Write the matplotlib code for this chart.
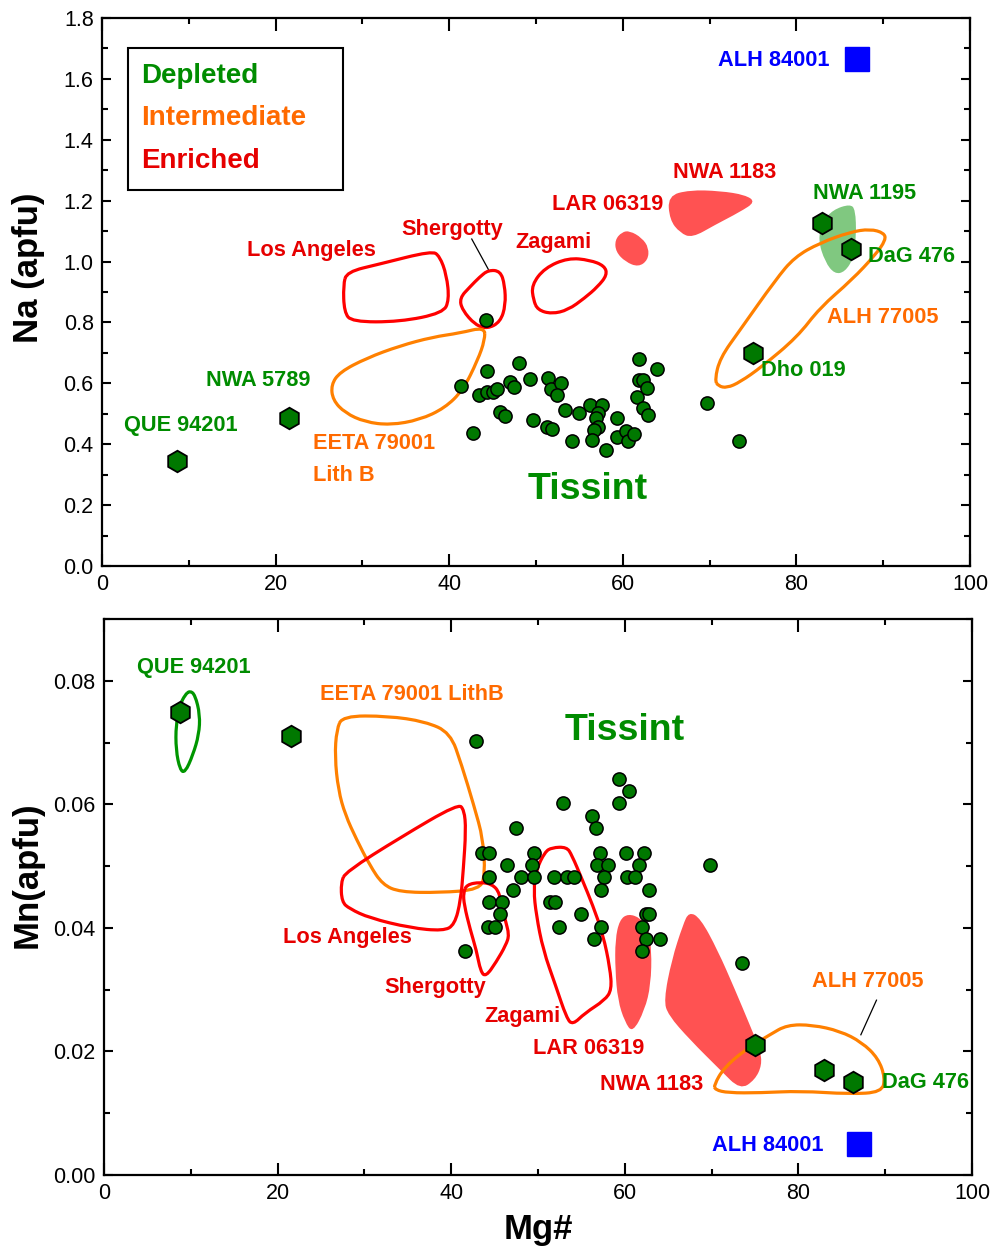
import matplotlib
matplotlib.use('Agg')
import matplotlib.pyplot as plt
from matplotlib import font_manager
from matplotlib.path import Path
from matplotlib.patches import PathPatch, Rectangle
from matplotlib.ticker import MultipleLocator

# ---------------- data ----------------
# Tissint olivine, Na panel
tis_na_mg = [44.2, 41.4, 44.3, 48.0, 43.4, 44.4, 45.0, 45.5, 47.0, 47.5, 49.3, 51.4, 51.7, 52.9,
             52.4, 45.8, 46.4, 42.7, 49.6, 51.3, 51.9, 53.3, 55.0, 54.2, 56.2, 57.6, 57.2, 56.9,
             57.2, 56.7, 56.4, 58.1, 59.3, 59.3, 60.4, 60.6, 61.3, 61.9, 61.9, 62.3, 61.6, 62.8,
             62.3, 62.9, 64.0, 69.7, 73.4]
tis_na = [0.807, 0.592, 0.642, 0.666, 0.562, 0.570, 0.570, 0.583, 0.606, 0.587, 0.614, 0.616,
          0.581, 0.601, 0.562, 0.506, 0.493, 0.438, 0.478, 0.458, 0.449, 0.511, 0.502, 0.409,
          0.528, 0.529, 0.502, 0.485, 0.455, 0.447, 0.414, 0.381, 0.485, 0.425, 0.445, 0.409,
          0.433, 0.681, 0.611, 0.611, 0.555, 0.584, 0.518, 0.495, 0.647, 0.534, 0.409]

# Tissint olivine, Mn panel
tis_mn_mg = [42.9, 59.3, 60.5, 59.3, 52.9, 56.2, 56.7, 47.5,
             43.5, 44.4, 49.6, 57.2, 60.1, 62.2,
             46.4, 49.3, 56.8, 58.1, 61.6, 69.8,
             44.4, 48.0, 49.6, 51.8, 53.4, 54.2, 57.6, 60.3, 61.2,
             47.1, 57.3, 62.8,
             44.4, 45.8, 51.4, 52.0,
             45.6, 55.0, 62.4, 62.8,
             44.3, 45.1, 52.4, 57.3, 62.0,
             62.4, 64.1, 56.5,
             62.0, 41.6, 73.5]
tis_mn = [0.0702, 0.0641, 0.0622, 0.0602, 0.0602, 0.0581, 0.0561, 0.0561,
          0.0522, 0.0522, 0.0522, 0.0522, 0.0522, 0.0522,
          0.0502, 0.0502, 0.0502, 0.0502, 0.0502, 0.0502,
          0.0482, 0.0482, 0.0482, 0.0482, 0.0482, 0.0482, 0.0482, 0.0482, 0.0482,
          0.0462, 0.0462, 0.0462,
          0.0442, 0.0442, 0.0442, 0.0442,
          0.0422, 0.0422, 0.0422, 0.0422,
          0.0402, 0.0402, 0.0402, 0.0402, 0.0402,
          0.0382, 0.0382, 0.0382,
          0.0362, 0.0362, 0.0343]

# depleted shergottites (hexagons)
hex_na_mg = [8.7, 21.6, 75.0, 82.9, 86.3]
hex_na = [0.345, 0.485, 0.699, 1.128, 1.040]
hex_mn_mg = [8.8, 21.6, 75.0, 83.0, 86.3]
hex_mn = [0.0749, 0.0710, 0.0211, 0.0170, 0.0150]

# ALH 84001
alh84_mg = [87.0]
alh84_na = [1.664]
alh84_mn = [0.0050]

# fields, Na panel (Mg#, Na)
na_los_angeles = [(28.2, 0.966), (32.0, 0.992), (38.0, 1.035), (38.9, 1.018), (39.7, 0.956),
                  (40.0, 0.874), (39.3, 0.831), (34.3, 0.802), (28.8, 0.802), (27.9, 0.834),
                  (27.8, 0.923)]
na_shergotty = [(44.5, 0.972), (45.9, 0.969), (46.4, 0.923), (46.5, 0.857), (45.9, 0.802),
                (44.4, 0.779), (43.0, 0.792), (41.5, 0.841), (41.2, 0.880), (42.4, 0.917),
                (43.5, 0.949)]
na_zagami = [(49.7, 0.874), (49.5, 0.923), (51.0, 0.979), (53.7, 1.012), (56.2, 1.005),
             (57.9, 0.986), (58.2, 0.956), (57.1, 0.917), (55.6, 0.880), (53.7, 0.841),
             (51.8, 0.828), (50.2, 0.841)]
na_lar = [(59.1, 1.071), (59.9, 1.097), (60.8, 1.101), (62.2, 1.078), (63.0, 1.045),
          (62.9, 1.005), (61.8, 0.982), (60.3, 0.999), (59.2, 1.032)]
na_nwa1183 = [(65.2, 1.216), (67.7, 1.235), (71.2, 1.232), (74.1, 1.219), (75.3, 1.196),
              (73.5, 1.163), (70.6, 1.120), (68.0, 1.078), (66.6, 1.094), (65.4, 1.137)]
na_nwa1195 = [(84.2, 1.170), (86.2, 1.189), (86.8, 1.170), (86.9, 1.087), (86.6, 1.012),
              (85.6, 0.966), (84.4, 0.959), (83.3, 0.999), (82.5, 1.071), (83.0, 1.130)]
na_alh77005 = [(70.6, 0.611), (71.2, 0.683), (73.5, 0.775), (77.6, 0.940), (79.8, 1.015),
               (82.7, 1.061), (86.2, 1.097), (88.5, 1.107), (90.1, 1.094), (90.3, 1.071),
               (89.1, 1.022), (86.4, 0.940), (82.7, 0.848), (80.1, 0.752), (76.0, 0.654),
               (73.5, 0.604), (72.0, 0.585), (71.0, 0.591)]
na_eeta = [(44.1, 0.785), (41.2, 0.765), (38.1, 0.752), (34.3, 0.723), (30.5, 0.683),
           (27.4, 0.637), (26.4, 0.595), (26.6, 0.545), (28.0, 0.503), (30.3, 0.473),
           (33.2, 0.463), (36.6, 0.480), (39.5, 0.519), (41.6, 0.578), (43.3, 0.677),
           (44.1, 0.742)]

# fields, Mn panel (Mg#, Mn)
mn_que = [(9.9, 0.0784), (10.5, 0.0777), (11.06, 0.0745), (10.94, 0.0713), (10.25, 0.0680),
          (9.33, 0.0651), (8.76, 0.0656), (8.29, 0.0688), (8.29, 0.0729), (8.76, 0.0761),
          (9.33, 0.0777)]
mn_eeta = [(27.5, 0.0743), (32.7, 0.0743), (37.0, 0.0734), (39.9, 0.0716), (41.2, 0.0664),
           (42.6, 0.0599), (43.7, 0.0543), (43.9, 0.0486), (43.3, 0.0462), (38.7, 0.0457),
           (34.1, 0.0458), (32.1, 0.0470), (30.6, 0.0502), (29.1, 0.0543), (27.8, 0.0583),
           (27.0, 0.0623), (26.6, 0.0677), (26.8, 0.0721)]
mn_los_angeles = [(27.9, 0.0491), (34.1, 0.0546), (40.8, 0.0601), (41.5, 0.0591), (41.7, 0.0559),
                  (41.4, 0.0494), (41.1, 0.0445), (40.4, 0.0405), (39.1, 0.0395), (35.3, 0.0400),
                  (30.6, 0.0416), (28.3, 0.0431), (27.4, 0.0442), (27.3, 0.0474)]
mn_shergotty = [(41.8, 0.0470), (43.3, 0.0474), (44.7, 0.0471), (45.6, 0.0457), (46.2, 0.0413),
                (46.7, 0.0389), (46.3, 0.0372), (45.2, 0.0345), (44.0, 0.0321), (43.4, 0.0329),
                (42.9, 0.0364), (42.2, 0.0397), (41.5, 0.0437), (41.4, 0.0457)]
mn_zagami = [(49.8, 0.0494), (50.8, 0.0523), (51.6, 0.0530), (53.3, 0.0531), (53.9, 0.0518),
             (55.1, 0.0478), (56.3, 0.0437), (57.5, 0.0389), (58.3, 0.0335), (58.5, 0.0300),
             (57.7, 0.0283), (55.4, 0.0262), (54.0, 0.0243), (53.3, 0.0254), (52.0, 0.0308),
             (50.6, 0.0364), (49.8, 0.0421), (49.5, 0.0462)]
mn_lar = [(58.9, 0.0381), (59.4, 0.0413), (60.4, 0.0423), (61.8, 0.0416), (62.7, 0.0400),
          (63.1, 0.0364), (63.0, 0.0308), (62.3, 0.0267), (60.9, 0.0230), (60.0, 0.0248),
          (59.2, 0.0283), (58.9, 0.0332)]
mn_nwa1183 = [(67.4, 0.0426), (68.7, 0.0416), (70.7, 0.0364), (72.7, 0.0300), (74.4, 0.0243),
              (75.6, 0.0202), (75.8, 0.0178), (75.0, 0.0154), (73.3, 0.0138), (71.0, 0.0170),
              (67.5, 0.0219), (65.0, 0.0259), (64.5, 0.0283), (65.4, 0.0348), (66.7, 0.0405)]
mn_alh77005 = [(70.3, 0.0146), (71.4, 0.0173), (73.8, 0.0202), (76.7, 0.0227), (78.7, 0.0243),
               (81.6, 0.0243), (84.8, 0.0233), (87.3, 0.0215), (89.2, 0.0189), (90.0, 0.0157),
               (89.6, 0.0134), (85.9, 0.0131), (80.2, 0.0136), (75.6, 0.0133), (71.9, 0.0133),
               (70.4, 0.0138)]

# ---------------- style ----------------
GREEN_T = '#008C00'
ORANGE_T = '#FF6A00'
RED_T = '#E60000'
RED_L = '#FF0000'
ORANGE_L = '#FF8000'
RED_F = '#FF5252'
GREEN_F = '#80C880'
GREEN_L = '#009600'
DOT = '#007800'

names = {f.name for f in font_manager.fontManager.ttflist}
if 'Liberation Sans Narrow' in names:
    NARROW, NSCALE = 'Liberation Sans Narrow', 1.0
else:
    NARROW, NSCALE = 'Liberation Sans', 0.87

plt.rcParams['font.family'] = ['Liberation Sans', 'DejaVu Sans']


def smooth_field(ax, pts, fill=None, edge=None, lw=2.3):
    # closed quadratic bezier through the midpoints, vertices act as control points
    n = len(pts)
    mids = [((pts[i][0] + pts[(i + 1) % n][0]) / 2, (pts[i][1] + pts[(i + 1) % n][1]) / 2)
            for i in range(n)]
    verts = [mids[-1]]
    codes = [Path.MOVETO]
    for i in range(n):
        verts += [pts[i], mids[i]]
        codes += [Path.CURVE3, Path.CURVE3]
    path = Path(verts, codes)
    patch = PathPatch(path, facecolor=fill if fill else 'none',
                      edgecolor=edge if edge else 'none', lw=lw if edge else 0,
                      joinstyle='round', zorder=2)
    ax.add_patch(patch)


def label(ax, x, y, s, color, size=18, ha='center', **kw):
    ax.text(x, y, s, color=color, fontsize=size * NSCALE, fontweight='bold',
            family=NARROW, ha=ha, va='center', zorder=6, **kw)


def style_axes(ax, ymajor, yminor):
    ax.set_xlim(0, 100)
    ax.xaxis.set_major_locator(MultipleLocator(20))
    ax.xaxis.set_minor_locator(MultipleLocator(10))
    ax.yaxis.set_major_locator(MultipleLocator(ymajor))
    ax.yaxis.set_minor_locator(MultipleLocator(yminor))
    ax.tick_params(which='both', direction='in', top=True, right=True, width=1.5,
                   labelsize=15.5, pad=6)
    ax.tick_params(axis='x', which='major', length=9)
    ax.tick_params(axis='x', which='minor', length=4.5)
    ax.tick_params(axis='y', which='major', length=6.5)
    ax.tick_params(axis='y', which='minor', length=4)
    for sp in ax.spines.values():
        sp.set_linewidth(1.6)


fig = plt.figure(figsize=(9.92, 12.5), dpi=100)

# ---------------- top panel: Na ----------------
ax1 = fig.add_axes([0.1028, 0.5472, 0.875, 0.4384])
style_axes(ax1, 0.2, 0.1)
ax1.set_ylim(0, 1.8)
ax1.yaxis.set_major_formatter(matplotlib.ticker.FormatStrFormatter('%.1f'))
ax1.set_ylabel('Na (apfu)', fontsize=25, fontweight='bold', va='center')
ax1.yaxis.set_label_coords(-0.085, 0.544)

smooth_field(ax1, na_nwa1195, fill=GREEN_F)
smooth_field(ax1, na_lar, fill=RED_F)
smooth_field(ax1, na_nwa1183, fill=RED_F)
smooth_field(ax1, na_los_angeles, edge=RED_L)
smooth_field(ax1, na_shergotty, edge=RED_L)
smooth_field(ax1, na_zagami, edge=RED_L)
smooth_field(ax1, na_eeta, edge=ORANGE_L)
smooth_field(ax1, na_alh77005, edge=ORANGE_L)

ax1.plot([42.6, 44.5], [1.074, 0.975], color='black', lw=0.9, zorder=3)
ax1.plot(tis_na_mg, tis_na, 'o', ms=9.5, mfc=DOT, mec='black', mew=1.1, zorder=4)
ax1.plot(hex_na_mg, hex_na, 'h', ms=15.5, mfc=DOT, mec='black', mew=1.3, zorder=5)
ax1.plot(alh84_mg, alh84_na, 's', ms=17, mfc='#0000FF', mec='#0000FF', zorder=5)

label(ax1, 24.1, 1.035, 'Los Angeles', RED_T)
label(ax1, 40.3, 1.104, 'Shergotty', RED_T)
label(ax1, 52.0, 1.064, 'Zagami', RED_T)
label(ax1, 58.3, 1.186, 'LAR 06319', RED_T)
label(ax1, 71.7, 1.294, 'NWA 1183', RED_T)
label(ax1, 87.8, 1.225, 'NWA 1195', GREEN_T)
label(ax1, 88.2, 1.018, 'DaG 476', GREEN_T, ha='left')
label(ax1, 89.9, 0.815, 'ALH 77005', ORANGE_T)
label(ax1, 75.9, 0.641, 'Dho 019', GREEN_T, ha='left')
label(ax1, 56.0, 0.250, 'Tissint', GREEN_T, size=31)
label(ax1, 24.3, 0.401, 'EETA 79001', ORANGE_T, ha='left')
label(ax1, 24.3, 0.296, 'Lith B', ORANGE_T, ha='left')
label(ax1, 18.0, 0.608, 'NWA 5789', GREEN_T)
label(ax1, 9.1, 0.463, 'QUE 94201', GREEN_T)
label(ax1, 83.8, 1.662, 'ALH 84001', '#0000FF', ha='right')

# legend box
ax1.add_patch(Rectangle((0.0296, 0.687), 0.2484, 0.259, transform=ax1.transAxes,
                        facecolor='white', edgecolor='black', lw=1.5, zorder=6))
for yy, s, c in [(0.894, 'Depleted', GREEN_T), (0.817, 'Intermediate', ORANGE_T),
                 (0.739, 'Enriched', RED_T)]:
    ax1.text(0.0456, yy, s, transform=ax1.transAxes, color=c, fontsize=23 * NSCALE,
             fontweight='bold', family=NARROW, ha='left', va='center', zorder=7)

# ---------------- bottom panel: Mn ----------------
ax2 = fig.add_axes([0.1048, 0.06, 0.875, 0.4448])
style_axes(ax2, 0.02, 0.01)
ax2.set_ylim(0, 0.09)
ax2.yaxis.set_major_formatter(matplotlib.ticker.FormatStrFormatter('%.2f'))
ax2.set_ylabel('Mn(apfu)', fontsize=25, fontweight='bold', va='center')
ax2.yaxis.set_label_coords(-0.088, 0.54)
ax2.set_xlabel('Mg#', fontsize=25, fontweight='bold', labelpad=6)

smooth_field(ax2, mn_lar, fill=RED_F)
smooth_field(ax2, mn_nwa1183, fill=RED_F)
smooth_field(ax2, mn_que, edge=GREEN_L)
smooth_field(ax2, mn_eeta, edge=ORANGE_L)
smooth_field(ax2, mn_los_angeles, edge=RED_L)
smooth_field(ax2, mn_shergotty, edge=RED_L)
smooth_field(ax2, mn_zagami, edge=RED_L)
smooth_field(ax2, mn_alh77005, edge=ORANGE_L)

ax2.plot([89.0, 87.2], [0.0283, 0.0227], color='black', lw=0.9, zorder=3)
ax2.plot(tis_mn_mg, tis_mn, 'o', ms=9.5, mfc=DOT, mec='black', mew=1.1, zorder=4)
ax2.plot(hex_mn_mg, hex_mn, 'h', ms=15.5, mfc=DOT, mec='black', mew=1.3, zorder=5)
ax2.plot(alh84_mg, alh84_mn, 's', ms=17, mfc='#0000FF', mec='#0000FF', zorder=5)

label(ax2, 10.4, 0.0821, 'QUE 94201', GREEN_T)
label(ax2, 35.5, 0.0777, 'EETA 79001 LithB', ORANGE_T)
label(ax2, 60.0, 0.0719, 'Tissint', GREEN_T, size=31)
label(ax2, 28.0, 0.0385, 'Los Angeles', RED_T)
label(ax2, 38.2, 0.0303, 'Shergotty', RED_T)
label(ax2, 48.2, 0.0257, 'Zagami', RED_T)
label(ax2, 55.8, 0.0204, 'LAR 06319', RED_T)
label(ax2, 63.1, 0.0147, 'NWA 1183', RED_T)
label(ax2, 88.0, 0.0314, 'ALH 77005', ORANGE_T)
label(ax2, 89.6, 0.0149, 'DaG 476', GREEN_T, ha='left')
label(ax2, 76.5, 0.0047, 'ALH 84001', '#0000FF')

fig.savefig('out.png', dpi=100)
